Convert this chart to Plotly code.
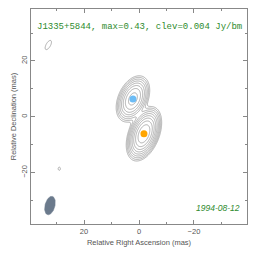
import numpy as np
import plotly.graph_objects as go

# ---- data ----
source_name = "J1335+5844"
map_max = 0.43          # Jy/beam
clev = 0.004            # Jy/beam
epoch = "1994-08-12"

# Gaussian model components: RA (mas), Dec (mas), peak (Jy/bm), FWHM major, FWHM minor (mas), PA (deg)
comp_ra   = [-1.8, 2.2, 33.0, 29.0]
comp_dec  = [-6.1, 6.4, 25.7, -18.6]
comp_peak = [0.43, 0.20, 0.0052, 0.0046]
comp_maj  = [7.9, 7.4, 6.0, 2.6]
comp_min  = [4.3, 4.5, 2.6, 1.8]
comp_pa   = [-22.0, -25.0, -30.0, 0.0]

# Marker positions (component centres)
dot_ra    = [2.2, -1.8]
dot_dec   = [6.4, -6.1]
dot_color = ["#6cbcf5", "#ffa500"]

# Restoring beam
beam_ra, beam_dec = 32.4, -31.8
beam_maj, beam_min, beam_pa = 6.8, 3.6, -15.0

x_range = [39.3, -39.3]
y_range = [-38.4, 38.6]
x_ticks = [20, 0, -20]
y_ticks = [-20, 0, 20]

# ---- build model image ----
ra = np.linspace(-40, 40, 401)
dec = np.linspace(-40, 40, 401)
RA, DEC = np.meshgrid(ra, dec)
img = np.zeros_like(RA)
for x0, y0, pk, fmaj, fmin, pa in zip(comp_ra, comp_dec, comp_peak, comp_maj, comp_min, comp_pa):
    t = np.radians(pa)
    dx, dy = RA - x0, DEC - y0
    u = dx * np.sin(t) + dy * np.cos(t)     # along major axis
    v = dx * np.cos(t) - dy * np.sin(t)     # along minor axis
    smaj, smin = fmaj / 2.3548, fmin / 2.3548
    img += pk * np.exp(-0.5 * ((u / smaj) ** 2 + (v / smin) ** 2))
z = np.log2(np.maximum(img, 1e-9) / clev)

fig = go.Figure()
fig.add_trace(go.Contour(
    x=ra, y=dec, z=z,
    contours=dict(coloring="lines", start=0, end=7, size=0.75),
    colorscale=[[0, "#9a9a9a"], [1, "#9a9a9a"]],
    line=dict(width=0.8), showscale=False, hoverinfo="skip"))

# beam ellipse
th = np.linspace(0, 2 * np.pi, 100)
t = np.radians(beam_pa)
a, b = beam_maj / 2, beam_min / 2
u, v = a * np.cos(th), b * np.sin(th)
bx = beam_ra + u * np.sin(t) + v * np.cos(t)
by = beam_dec + u * np.cos(t) - v * np.sin(t)
fig.add_trace(go.Scatter(x=bx, y=by, mode="lines", fill="toself",
                         fillcolor="#6b7a8c", line=dict(color="#6b7a8c", width=0.5),
                         hoverinfo="skip"))

fig.add_trace(go.Scatter(x=dot_ra, y=dot_dec, mode="markers",
                         marker=dict(size=7, color=dot_color), hoverinfo="skip"))

axis_common = dict(showgrid=False, zeroline=False, showline=True, linecolor="#888",
                   linewidth=1, mirror="ticks", ticks="inside", ticklen=4, automargin=False,
                   tickcolor="#888", tickfont=dict(family="Liberation Sans", size=7.5, color="#555"),
                   minor=dict(ticks="inside", ticklen=2, dtick=10, tickcolor="#888"))

fig.update_xaxes(range=x_range, tickvals=x_ticks, ticktext=[str(v).replace("-", "−") for v in x_ticks],
                 title=dict(text="Relative Right Ascension (mas)", standoff=4,
                            font=dict(family="Liberation Sans", size=7.5, color="#555")),
                 **axis_common)
fig.update_yaxes(range=y_range, tickvals=y_ticks, ticktext=[str(v).replace("-", "−") for v in y_ticks],
                 tickangle=-90,
                 title=dict(text="Relative Declination (mas)", standoff=2,
                            font=dict(family="Liberation Sans", size=7.5, color="#555")),
                 **axis_common)

fig.add_annotation(text=f"{source_name}, max={map_max}, clev={clev} Jy/bm",
                   xref="paper", yref="paper", x=0.5, y=0.949, showarrow=False,
                   font=dict(family="Liberation Mono", size=9, color="#2e8b2e"))
fig.add_annotation(text=epoch, xref="paper", yref="paper", x=0.977, y=0.042,
                   xanchor="right", showarrow=False,
                   font=dict(family="Liberation Sans", size=8.5, color="#2e8b2e", style="italic"))

fig.update_layout(width=264, height=262, margin=dict(l=31, r=17, t=9, b=38),
                  plot_bgcolor="white", paper_bgcolor="white", showlegend=False)

fig.write_html("out.html", config={"displayModeBar": False},
               post_script="document.body.style.margin='0';")
